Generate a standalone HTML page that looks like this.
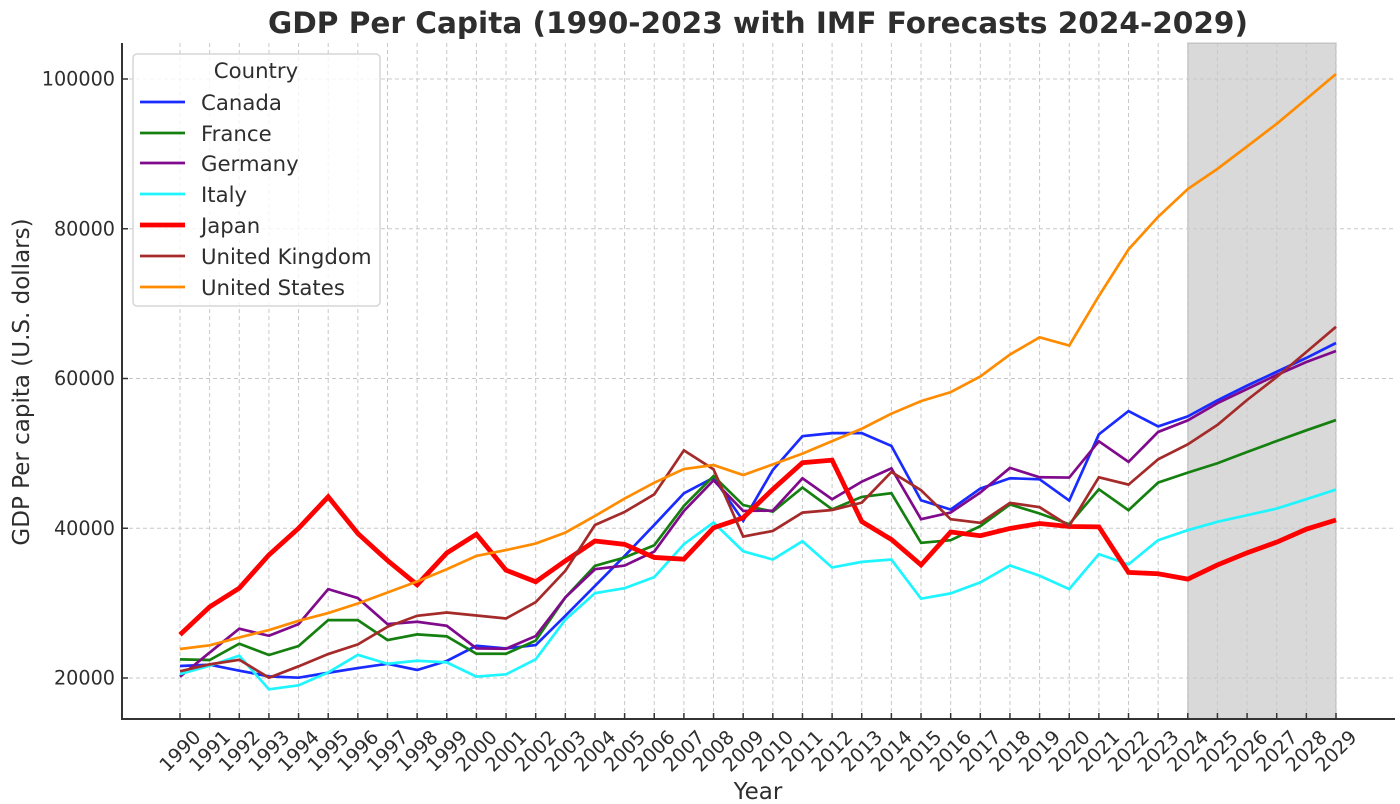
<!DOCTYPE html>
<html lang="en">
<head>
<meta charset="utf-8">
<title>GDP Per Capita (1990-2023 with IMF Forecasts 2024-2029)</title>
<style>
html,body{margin:0;padding:0;background:#fff;width:1400px;height:804px;overflow:hidden}
svg{display:block}
text{font-family:"DejaVu Sans","Liberation Sans",sans-serif;fill:#2e2e2e}
</style>
</head>
<body>
<svg id="chart" xmlns="http://www.w3.org/2000/svg" width="1400" height="804" viewBox="0 0 1400 804">
  <text x="758" y="33" text-anchor="middle" font-size="29.55" font-weight="700">GDP Per Capita (1990-2023 with IMF Forecasts 2024-2029)</text>
  <rect id="forecast-band" fill="#808080" fill-opacity="0.3" stroke="#808080" stroke-opacity="0.3" stroke-width="1.5"></rect>
  <g id="grid" stroke="#c8c8c8" stroke-width="1" stroke-dasharray="4 3"></g>
  <g id="x-ticks"></g>
  <g id="y-ticks"></g>
  <g id="lines" fill="none" stroke-linejoin="miter"></g>
  <line x1="122" y1="43" x2="122" y2="720" stroke="#333" stroke-width="2"></line>
  <line x1="121" y1="719" x2="1395" y2="719" stroke="#333" stroke-width="2"></line>
  <text x="758" y="799" text-anchor="middle" font-size="23">Year</text>
  <text transform="translate(29,382) rotate(-90)" text-anchor="middle" font-size="23">GDP Per capita (U.S. dollars)</text>
  <g>
    <rect x="133" y="54" width="247" height="252" rx="4" fill="#fff" fill-opacity="0.8" stroke="#d6d6d6" stroke-width="1.5"></rect>
    <text x="256" y="78" text-anchor="middle" font-size="21.25">Country</text>
    <g><line x1="140" y1="102" x2="185" y2="102" stroke="#1a2bff" stroke-width="2.7"></line><text x="201" y="110" font-size="21.25">Canada</text></g>
    <g><line x1="140" y1="133" x2="185" y2="133" stroke="#158010" stroke-width="2.7"></line><text x="201" y="141" font-size="21.25">France</text></g>
    <g><line x1="140" y1="163" x2="185" y2="163" stroke="#800a8c" stroke-width="2.7"></line><text x="201" y="171" font-size="21.25">Germany</text></g>
    <g><line x1="140" y1="194" x2="185" y2="194" stroke="#1ff5ff" stroke-width="2.7"></line><text x="201" y="202" font-size="21.25">Italy</text></g>
    <g><line x1="140" y1="225" x2="185" y2="225" stroke="#ff0000" stroke-width="4.8"></line><text x="201" y="233" font-size="21.25">Japan</text></g>
    <g><line x1="140" y1="256" x2="185" y2="256" stroke="#a52a2a" stroke-width="2.7"></line><text x="201" y="264" font-size="21.25">United Kingdom</text></g>
    <g><line x1="140" y1="287" x2="185" y2="287" stroke="#ff8c00" stroke-width="2.7"></line><text x="201" y="295" font-size="21.25">United States</text></g>
  </g>
</svg>
<script>
const years = [1990,1991,1992,1993,1994,1995,1996,1997,1998,1999,2000,2001,2002,2003,2004,2005,2006,2007,2008,2009,2010,2011,2012,2013,2014,2015,2016,2017,2018,2019,2020,2021,2022,2023,2024,2025,2026,2027,2028,2029];
const yTickLabels = [20000,40000,60000,80000,100000];
const forecastRange = [2024,2029];
const canada = [21600,21780,20980,20220,20040,20700,21330,21900,21070,22270,24300,23950,24400,28300,32300,36300,40440,44670,46750,40980,47780,52300,52700,52700,51000,43740,42500,45300,46680,46540,43700,52540,55650,53600,54940,57080,59050,60900,62750,64740];
const france = [22490,22400,24580,23070,24270,27730,27730,25070,25820,25560,23240,23240,25000,30760,34980,36090,37730,42980,46980,43100,42220,45430,42530,44190,44680,38050,38400,40280,43170,41970,40540,45200,42410,46100,47430,48680,50190,51650,53080,54450];
const germany = [20180,23400,26580,25640,27200,31870,30670,27200,27510,26980,23960,23910,25600,30760,34530,35020,36890,42310,46400,42310,42360,46670,43870,46220,48000,41210,42100,44770,48060,46810,46770,51610,48860,52860,54410,56700,58600,60470,62200,63670];
const italy = [20530,21640,22980,18490,19020,20750,23100,21900,22300,22090,20180,20490,22500,27780,31330,32000,33470,37870,40760,36930,35820,38270,34760,35510,35820,30590,31300,32770,35030,33660,31880,36540,35170,38410,39740,40860,41740,42630,43880,45170];
const japan = [25780,29500,32000,36440,40000,44200,39300,35700,32450,36700,39200,34400,32850,35650,38300,37850,36100,35870,40050,41400,45200,48750,49100,40900,38500,35100,39500,39000,39970,40630,40230,40190,34100,33920,33200,35100,36720,38140,39880,41100];
const unitedKingdom = [20890,21820,22440,20040,21560,23200,24490,26840,28310,28750,28350,27950,30130,34310,40440,42180,44530,50400,47870,38890,39640,42090,42440,43420,47510,45080,41210,40720,43390,42810,40320,46810,45830,49210,51210,53800,57130,60200,63540,66900];
const unitedStates = [23870,24360,25420,26400,27640,28670,29950,31420,32890,34530,36310,37080,37960,39420,41640,43960,46090,47910,48440,47110,48530,49960,51640,53290,55300,56980,58180,60270,63200,65500,64400,71020,77230,81600,85300,88000,91000,94020,97330,100670];

const NS = 'http://www.w3.org/2000/svg';
const xOf = yr => 180 + (yr - 1990) * (1336 - 180) / (2029 - 1990);
const yOf = v => 678 - (v - 20000) * (678 - 79) / 80000;
const PLOT = {left:122, right:1394, top:43, bottom:719};

function make(tag, attrs, parent) {
  const el = document.createElementNS(NS, tag);
  for (const k in attrs) el.setAttribute(k, attrs[k]);
  parent.appendChild(el);
  return el;
}

const band = document.getElementById('forecast-band');
band.setAttribute('x', xOf(forecastRange[0]));
band.setAttribute('y', PLOT.top);
band.setAttribute('width', xOf(forecastRange[1]) - xOf(forecastRange[0]));
band.setAttribute('height', PLOT.bottom - PLOT.top);

const grid = document.getElementById('grid');
const xTicks = document.getElementById('x-ticks');
const yTicks = document.getElementById('y-ticks');

years.forEach(yr => {
  const x = xOf(yr);
  const g = make('line', {x1:x, x2:x, y1:PLOT.top, y2:PLOT.bottom}, grid);
  
  
  const t = make('line', {x1:x, x2:x, y1:PLOT.bottom - 6, y2:PLOT.bottom, stroke:'#333', 'stroke-width':1.5}, xTicks);
  
  
  const l = make('text', {transform:'translate(' + x + ',751) rotate(-45)', 'text-anchor':'middle', 'dominant-baseline':'central', 'font-size':19.2}, xTicks);
  
  
  l.textContent = yr;
});

yTickLabels.forEach(v => {
  const y = yOf(v);
  const g = make('line', {x1:PLOT.left, x2:PLOT.right, y1:y, y2:y}, grid);
  
  
  const t = make('line', {x1:PLOT.left, x2:PLOT.left + 6, y1:y, y2:y, stroke:'#333', 'stroke-width':1.5}, yTicks);
  
  
  const l = make('text', {x:115, y:y, 'text-anchor':'end', 'dominant-baseline':'central', 'font-size':19.2}, yTicks);
  
  
  l.textContent = v;
});

function drawSeries(name, values, color, width) {
  const pts = values.map((v, i) => xOf(years[i]).toFixed(2) + ',' + yOf(v).toFixed(2)).join(' ');
  const p = make('polyline', {points:pts, stroke:color, 'stroke-width':width}, document.getElementById('lines'));
  
  
}
drawSeries('line-canada', canada, '#1a2bff', 2.7);
drawSeries('line-france', france, '#158010', 2.7);
drawSeries('line-germany', germany, '#800a8c', 2.7);
drawSeries('line-italy', italy, '#1ff5ff', 2.7);
drawSeries('line-japan', japan, '#ff0000', 4.8);
drawSeries('line-united-kingdom', unitedKingdom, '#a52a2a', 2.7);
drawSeries('line-united-states', unitedStates, '#ff8c00', 2.7);
</script>
</body>
</html>
